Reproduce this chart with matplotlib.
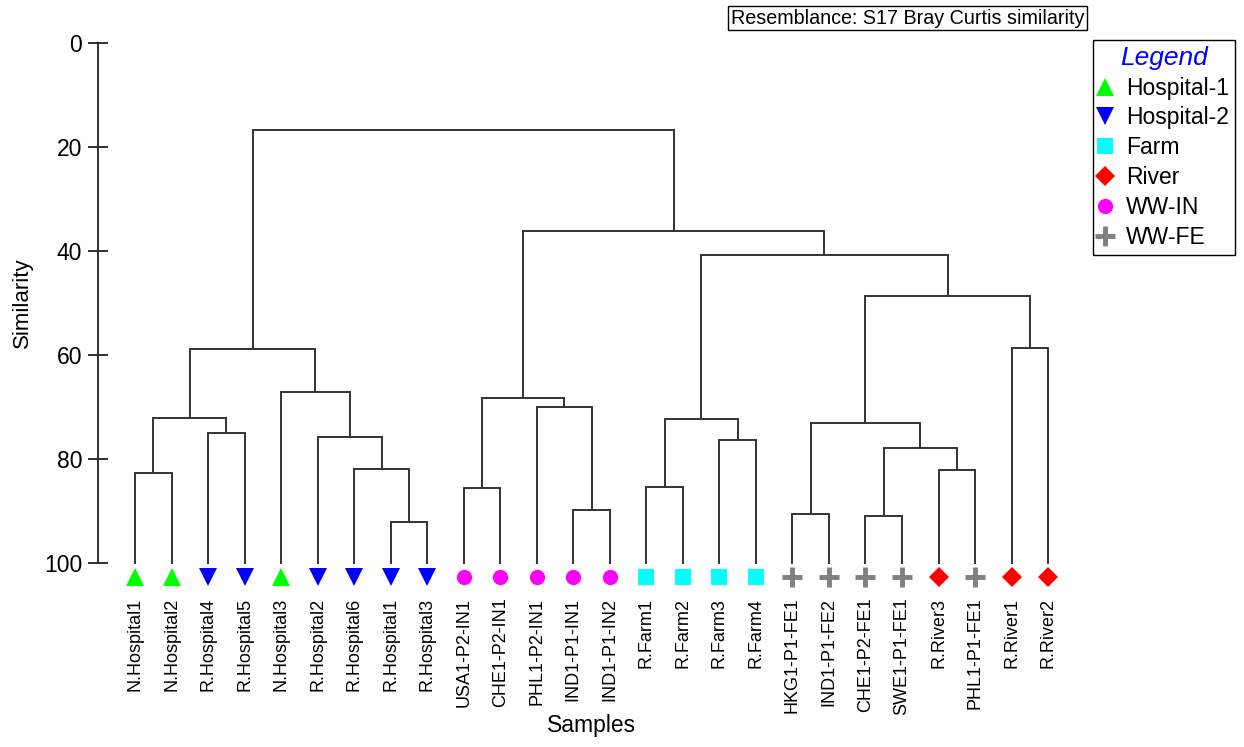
import matplotlib
matplotlib.use('Agg')
import matplotlib.pyplot as plt
from matplotlib.lines import Line2D

plt.rcParams['font.family'] = ['Liberation Sans', 'DejaVu Sans']

# leaves in dendrogram order
samples = ['N.Hospital1', 'N.Hospital2', 'R.Hospital4', 'R.Hospital5', 'N.Hospital3',
           'R.Hospital2', 'R.Hospital6', 'R.Hospital1', 'R.Hospital3',
           'USA1-P2-IN1', 'CHE1-P2-IN1', 'PHL1-P2-IN1', 'IND1-P1-IN1', 'IND1-P1-IN2',
           'R.Farm1', 'R.Farm2', 'R.Farm3', 'R.Farm4',
           'HKG1-P1-FE1', 'IND1-P1-FE2', 'CHE1-P2-FE1', 'SWE1-P1-FE1', 'R.River3',
           'PHL1-P1-FE1', 'R.River1', 'R.River2']
groups = ['Hospital-1', 'Hospital-1', 'Hospital-2', 'Hospital-2', 'Hospital-1',
          'Hospital-2', 'Hospital-2', 'Hospital-2', 'Hospital-2',
          'WW-IN', 'WW-IN', 'WW-IN', 'WW-IN', 'WW-IN',
          'Farm', 'Farm', 'Farm', 'Farm',
          'WW-FE', 'WW-FE', 'WW-FE', 'WW-FE', 'River',
          'WW-FE', 'River', 'River']

# merges: (child a, child b, similarity); ids >= 26 are earlier merges (26 + row)
merge_a = [7, 6, 5, 4, 0, 2, 30, 32, 9, 12, 11, 34, 14, 16, 38, 18, 20, 22, 42, 41, 24, 45, 40, 37, 33]
merge_b = [8, 26, 27, 28, 1, 3, 31, 29, 10, 13, 35, 36, 15, 17, 39, 19, 21, 23, 43, 44, 25, 46, 47, 48, 49]
merge_sim = [92.1, 81.9, 75.7, 67.1, 82.7, 75.0, 72.2, 58.8, 85.6, 89.8, 70.0, 68.3,
             85.3, 76.3, 72.3, 90.5, 90.9, 82.2, 77.8, 73.0, 58.6, 48.7, 40.7, 36.2, 16.7]

group_names = ['Hospital-1', 'Hospital-2', 'Farm', 'River', 'WW-IN', 'WW-FE']
group_colors = ['#00ff00', '#0000ff', '#00ffff', '#ff0000', '#ff00ff', '#808080']
group_markers = ['^', 'v', 's', 'D', 'o', '+']
group_msize = [13, 13, 11, 10, 11, 15]

fig = plt.figure(figsize=(12.44, 7.47), dpi=100)
ax = fig.add_axes([98 / 1244, 1 - 563 / 747, 987 / 1244, 520 / 747])

n = len(samples)
xpos = list(range(n))
ypos = [100.0] * n
for a, b, h in zip(merge_a, merge_b, merge_sim):
    xa, xb = xpos[a], xpos[b]
    ax.plot([xa, xa, xb, xb], [ypos[a], h, h, ypos[b]], color='#333333', lw=1.4,
            solid_joinstyle='miter', clip_on=False)
    xpos.append((xa + xb) / 2)
    ypos.append(h)

for i, g in enumerate(groups):
    k = group_names.index(g)
    ax.plot(i, 102.7, marker=group_markers[k], color=group_colors[k], ms=group_msize[k],
            mew=3.5 if group_markers[k] == '+' else 0, ls='none', clip_on=False)

ax.set_xlim(-1.013, 26.01)
ax.set_ylim(100, 0)
ax.set_yticks([0, 20, 40, 60, 80, 100])
ax.set_xticks(range(n))
ax.set_xticklabels(samples, rotation=90, fontsize=13)
ax.tick_params(axis='x', length=0, pad=25)
ax.tick_params(axis='y', direction='inout', length=14.4, width=1.3, pad=4.3,
               labelsize=16.5, color='#222222')
for s in ['top', 'right', 'bottom']:
    ax.spines[s].set_visible(False)
ax.spines['left'].set_linewidth(1.3)
ax.spines['left'].set_color('#222222')

ax.set_ylabel('Similarity', fontsize=16)
ax.yaxis.set_label_coords(-0.066, 0.5)
ax.set_xlabel('Samples', fontsize=16.5)
ax.xaxis.set_label_coords(0.5, -0.29)

fig.text(907.5 / 1244, 1 - 18 / 747, 'Resemblance: S17 Bray Curtis similarity',
         fontsize=14.2, ha='center', va='center',
         bbox=dict(boxstyle='square,pad=0.14', fc='white', ec='black', lw=1))

handles = [Line2D([], [], marker=m, color=c, ms=s, ls='none',
                  mew=3.5 if m == '+' else 0)
           for m, c, s in zip(group_markers, group_colors, group_msize)]
leg = fig.legend(handles, group_names, loc='upper left',
                 bbox_to_anchor=(1093 / 1244, 1 - 40 / 747), borderaxespad=0,
                 fontsize=16.5, title='Legend', title_fontsize=19, fancybox=False,
                 edgecolor='black', handlelength=0.55, handletextpad=0.65,
                 labelspacing=0.3, borderpad=0.25, framealpha=1)
leg.get_title().set_color('blue')
leg.get_title().set_style('italic')
leg.get_frame().set_linewidth(1)

fig.savefig('out.png', dpi=100)
